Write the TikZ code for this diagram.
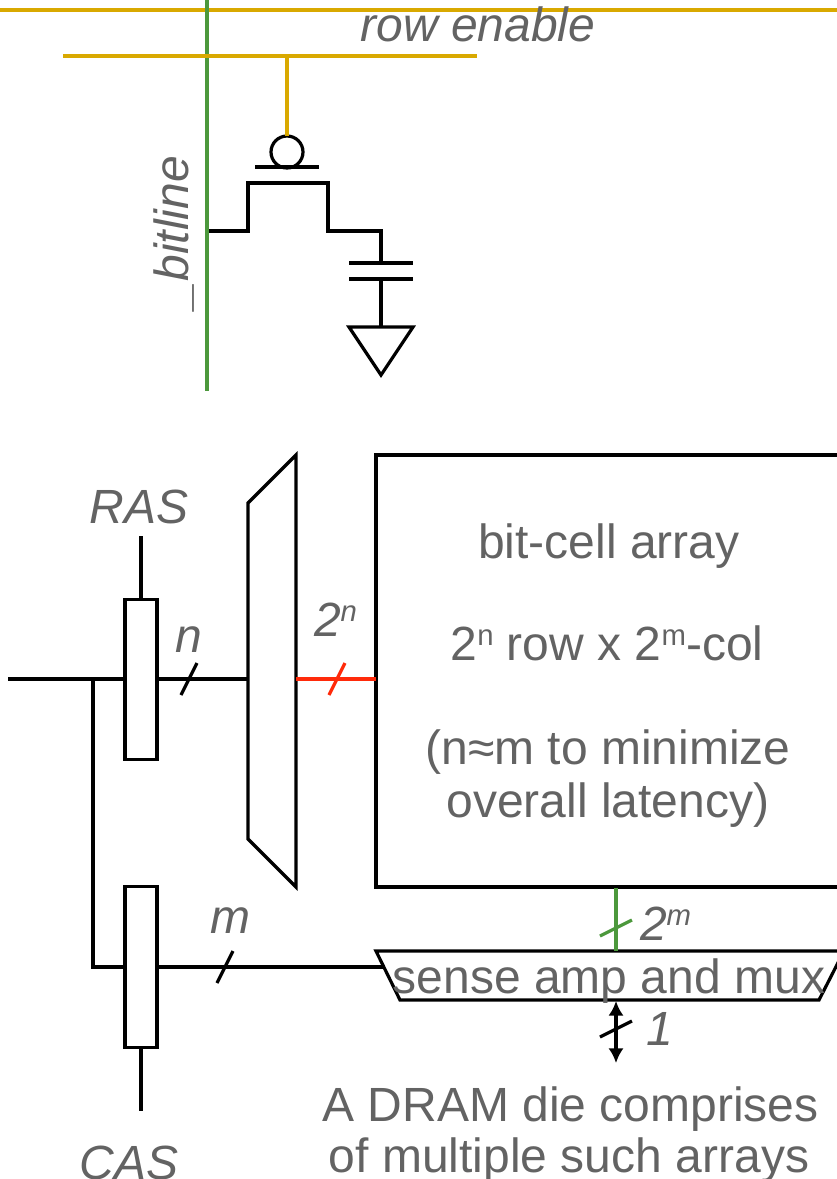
\documentclass[tikz,border=0pt]{standalone}
\usepackage{fontspec}
\setmainfont{Liberation Sans}
\usetikzlibrary{arrows.meta}
\definecolor{txt}{HTML}{636363}
\definecolor{rowc}{HTML}{D9A900}
\definecolor{bitc}{HTML}{4C983C}
\definecolor{redc}{HTML}{FF2A0A}
\newcommand{\sups}[1]{\raisebox{11pt}{\fontsize{22}{24}\selectfont #1}}
\tikzset{
  lbl/.style={font=\fontsize{36}{38}\selectfont, text=txt, anchor=base, inner sep=0pt, outer sep=0pt},
  ilbl/.style={lbl, font=\fontsize{36}{38}\selectfont\itshape},
  wire/.style={line width=2.4pt, line join=miter},
  rowwire/.style={line width=3pt, rowc},
  latch/.style={draw, line width=2.4pt, fill=white, minimum width=24pt, minimum height=120.5pt, inner sep=0pt, outer sep=0pt},
}
\begin{document}
\begin{tikzpicture}[x=0.75pt,y=-0.75pt]
\useasboundingbox (0,0) rectangle (837,1179);
\clip (0,0) rectangle (837,1179);
% coordinates
\coordinate (rowL) at (0,10); \coordinate (rowR) at (837,10);
\coordinate (enL) at (63,55.5); \coordinate (enR) at (477,55.5);
\coordinate (enT) at (287,55.5);
\coordinate (bitT) at (207,0); \coordinate (bitB) at (207,391);
\coordinate (bitJ) at (209,231);
\coordinate (capT) at (381,263); \coordinate (capB) at (381,279);
% DRAM cell
\draw[rowwire] (rowL) -- (rowR);
\draw[line width=3pt, bitc] (bitT) -- (bitB);
\draw[rowwire] (enL) -- (enR);
\node[draw, circle, line width=2.4pt, minimum size=24pt, inner sep=0pt, outer sep=0pt] (gate) at (287,152) {};
\draw[rowwire] (enT) -- (gate.north);
\coordinate (gL) at (255,167); \coordinate (gR) at (319,167);
\draw[wire] (gL) -- (gR);
\draw[wire] (bitJ) -- (248,231) -- (248,183) -- (328,183) -- (328,231) -- (381,231) -- (capT);
\draw[wire] (349,263) -- (413,263);
\draw[wire] (349,279) -- (413,279);
\coordinate (gndT) at (381,327);
\draw[wire] (capB) -- (gndT);
\draw[wire] (349,327) -- (413,327) -- (381,375) -- cycle;
\node[ilbl] (rowlabel) at (478,41) {row enable};
\node[ilbl, rotate=90] (bitlabel) at (188,232) {\_bitline};
% array and decoder
\node[draw, line width=2.4pt, minimum width=355.5pt, minimum height=324pt, inner sep=0pt, outer sep=0pt] (array) at (613,671) {};
\coordinate (decIn) at (248,679); \coordinate (decOut) at (296,679);
\coordinate (arrIn) at (376,679);
\draw[wire] (248,503) -- (296,455) -- (296,887) -- (248,839) -- cycle;
\coordinate (addrL) at (8,679);
\coordinate (branch) at (93,679);
\coordinate (casIn) at (125,967);
\coordinate (rasTop) at (141,536);
\coordinate (casBot) at (141,1111);
\draw[wire] (addrL) -- (decIn);
\draw[wire] (branch) |- (casIn);
\draw[wire] (157,967) -- (392,967);
\node[latch] (ras) at (141,679.5) {};
\node[latch] (cas) at (141,967) {};
\draw[wire] (rasTop) -- (ras.north);
\draw[wire] (cas.south) -- (casBot);
\draw[line width=2.4pt, redc] (decOut) -- (arrIn);
\coordinate (tickn) at (189,679);
\coordinate (tickN) at (337,679);
\coordinate (tickm) at (225,967);
\draw[line width=2.4pt] (tickn) +(-8,16) -- +(8,-16);
\draw[line width=2.4pt, redc] (tickN) +(-8,16) -- +(8,-16);
\draw[line width=2.4pt] (tickm) +(-8,16) -- +(8,-16);
% sense amp
\draw[wire, fill=white] (376,951) -- (844,951) -- (819,1000) -- (400,1000) -- cycle;
\coordinate (saTop) at (616,951); \coordinate (arrBot) at (616,888);
\draw[line width=2.4pt, bitc] (arrBot) -- (saTop);
\coordinate (tickM) at (616,928);
\draw[line width=2.4pt, bitc] (tickM) +(-16,8) -- +(16,-8);
\coordinate (saBot) at (616,1001); \coordinate (ioEnd) at (616,1063);
\draw[line width=2.4pt, {Latex[length=11pt,width=11.5pt]}-{Latex[length=11pt,width=11.5pt]}] (saBot) -- (ioEnd);
\coordinate (tick1) at (616,1029);
\draw[line width=2.4pt] (tick1) +(-16,8) -- +(16,-8);
% labels
\node[ilbl] (raslabel) at (139,523) {RAS};
\node[ilbl] (caslabel) at (129,1179) {CAS};
\node[ilbl] (nlabel) at (189,652) {n};
\node[ilbl] (mlabel) at (230,933) {m};
\node[ilbl, anchor=base west] (Nlabel) at (314,636) {2\sups{n}};
\node[ilbl, anchor=base west] (Mlabel) at (640,940) {2\sups{m}};
\node[ilbl, anchor=base west] (onelabel) at (646,1045) {1};
\node[lbl] (l1) at (609,558) {bit-cell array};
\node[lbl] (l2) at (607,660) {2\sups{n} row x 2\sups{m}-col};
\node[lbl] (l3) at (608,764) {(n≈m to minimize};
\node[lbl] (l4) at (608,817) {overall latency)};
\node[lbl] (l5) at (609,993) {sense amp and mux};
\node[lbl] (l6) at (570.5,1121) {A DRAM die comprises};
\node[lbl] (l7) at (569,1172) {of multiple such arrays};
\end{tikzpicture}
\end{document}
